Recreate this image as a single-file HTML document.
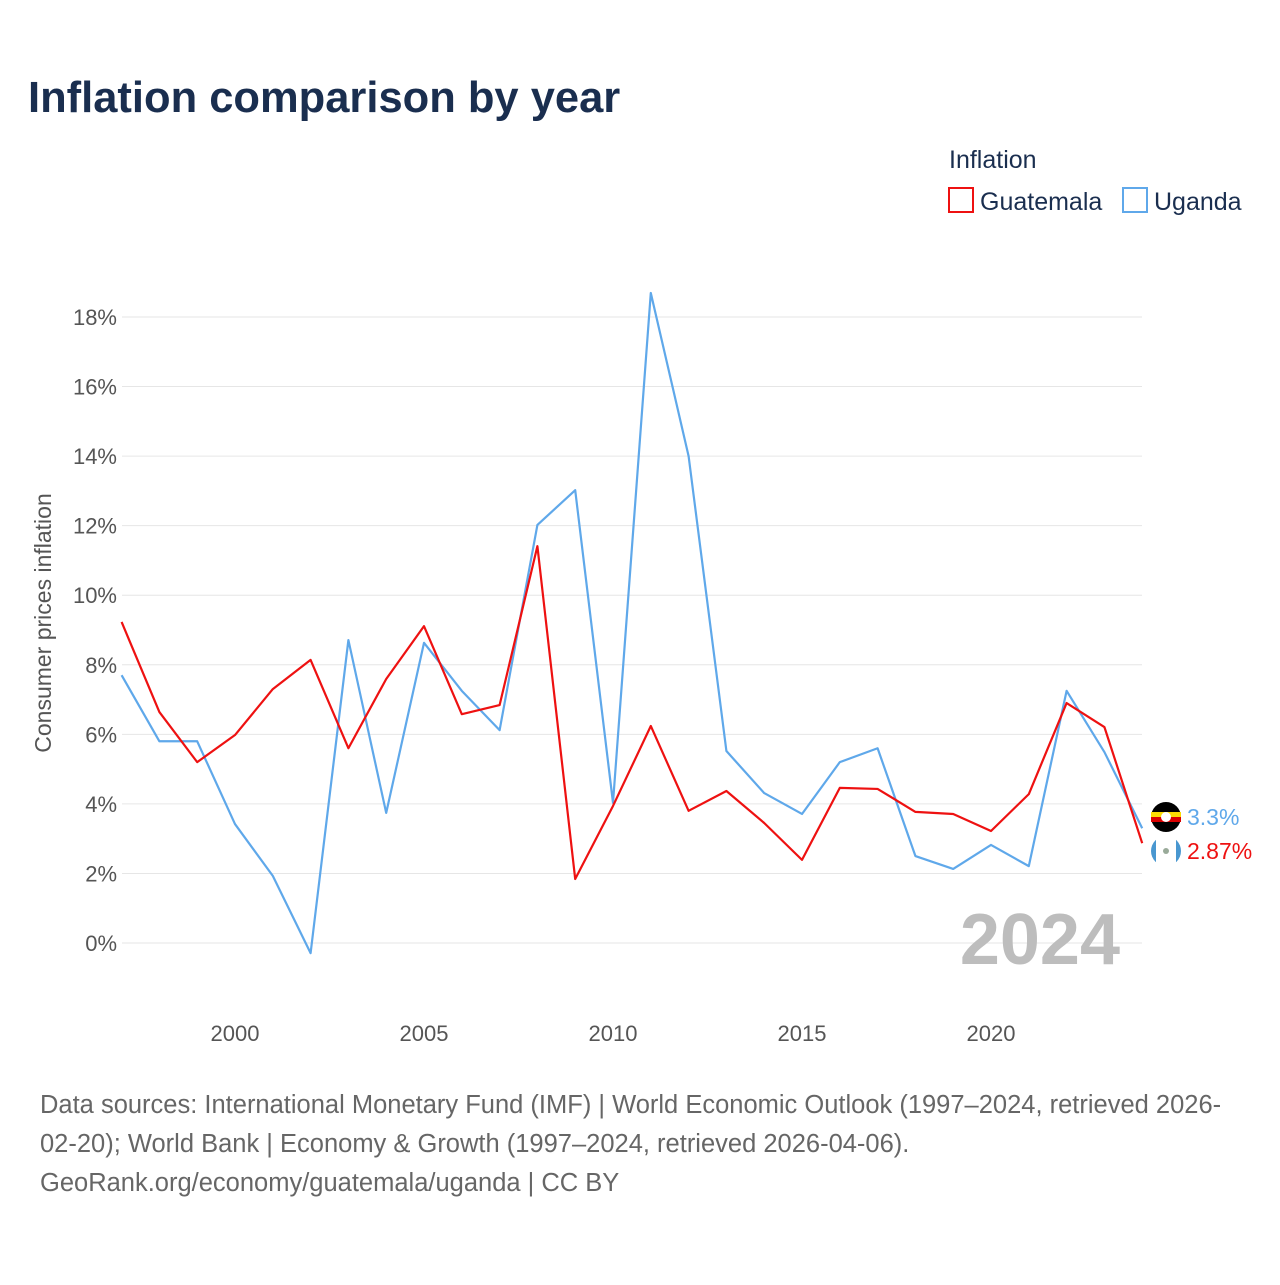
<!DOCTYPE html>
<html><head><meta charset="utf-8">
<style>
body{margin:0;background:#fff;font-family:"Liberation Sans",sans-serif;}
svg text{font-family:"Liberation Sans",sans-serif;}
</style></head>
<body>
<svg width="1280" height="1280" viewBox="0 0 1280 1280">
<text x="28" y="112" font-size="43.5" font-weight="bold" fill="#1a2e4f">Inflation comparison by year</text>
<text x="949" y="168" font-size="25" fill="#1a2e4f">Inflation</text>
<g><rect x="949" y="188" width="24" height="24" fill="none" stroke="#ee1111" stroke-width="2"/><text x="980" y="210" font-size="25" fill="#1a2e4f">Guatemala</text></g>
<g><rect x="1123" y="188" width="24" height="24" fill="none" stroke="#5fa8ea" stroke-width="2"/><text x="1154" y="210" font-size="25" fill="#1a2e4f">Uganda</text></g>
<g id="grid"></g>
<g id="yt"></g>
<g id="xt"></g>
<text transform="translate(51,623) rotate(-90)" text-anchor="middle" font-size="23" fill="#555">Consumer prices inflation</text>
<text x="1120" y="964" text-anchor="end" font-size="72" font-weight="bold" fill="#bdbdbd">2024</text>
<g id="series"></g>
<g>
<g><circle cx="1166" cy="817" r="15" fill="#000"/><rect x="1151" y="812" width="30" height="5" fill="#fcdc04"/><rect x="1151" y="817" width="30" height="5" fill="#d90000"/><circle cx="1166" cy="817" r="5" fill="#fff"/></g>
<text x="1187" y="825" font-size="23" fill="#5fa8ea">3.3%</text>
<g><circle cx="1166" cy="851" r="15" fill="#4997d0"/><rect x="1156" y="836" width="20" height="30" fill="#fff"/><circle cx="1166" cy="851" r="3" fill="#9a9"/></g>
<text x="1187" y="859" font-size="23" fill="#ee1111">2.87%</text>
</g>
<text font-size="25.5" fill="#666"><tspan x="40" y="1113">Data sources: International Monetary Fund (IMF) | World Economic Outlook (1997–2024, retrieved 2026-</tspan><tspan x="40" y="1152">02-20); World Bank | Economy &amp; Growth (1997–2024, retrieved 2026-04-06).</tspan><tspan x="40" y="1191">GeoRank.org/economy/guatemala/uganda | CC BY</tspan></text>
</svg>
<script>
const years=[1997,1998,1999,2000,2001,2002,2003,2004,2005,2006,2007,2008,2009,2010,2011,2012,2013,2014,2015,2016,2017,2018,2019,2020,2021,2022,2023,2024];
const guatemala=[9.23,6.64,5.2,5.98,7.3,8.14,5.6,7.59,9.11,6.58,6.84,11.41,1.84,3.94,6.24,3.8,4.37,3.45,2.39,4.46,4.43,3.77,3.71,3.22,4.28,6.9,6.21,2.87];
const uganda=[7.7,5.8,5.8,3.42,1.93,-0.29,8.71,3.74,8.63,7.25,6.12,12.02,13.02,4.03,18.69,14.0,5.52,4.31,3.71,5.2,5.6,2.5,2.13,2.82,2.21,7.25,5.49,3.3];
const yTicks=[0,2,4,6,8,10,12,14,16,18];
const xTicks=[2000,2005,2010,2015,2020];
const NS="http://www.w3.org/2000/svg";
const x=v=>235+(v-2000)*37.8;
const y=v=>943-v*34.78;
function mk(t,a,p){const e=document.createElementNS(NS,t);for(const k in a)e.setAttribute(k,a[k]);p.appendChild(e);return e;}
const grid=document.getElementById('grid'),yt=document.getElementById('yt'),xt=document.getElementById('xt'),ser=document.getElementById('series');
yTicks.forEach(v=>{
 const l=mk('line',{x1:122,x2:1142,y1:y(v),y2:y(v),stroke:'#e6e6e6','stroke-width':1},grid);
 
 
 const t=mk('text',{x:117,y:y(v)+8,'text-anchor':'end','font-size':22,fill:'#555'},yt);
 t.textContent=v+'%';
 
 
});
xTicks.forEach(v=>{
 const t=mk('text',{x:x(v),y:1041,'text-anchor':'middle','font-size':22,fill:'#555'},xt);
 t.textContent=v;
 
 
});
function line(d,c,n){
 const p=mk('polyline',{points:d.map((v,i)=>x(years[i])+','+y(v)).join(' '),fill:'none',stroke:c,'stroke-width':2.2,'stroke-linejoin':'round'},ser);
 
 
}
line(uganda,'#5fa8ea','uganda-line');
line(guatemala,'#ee1111','guatemala-line');
</script>
</body></html>
